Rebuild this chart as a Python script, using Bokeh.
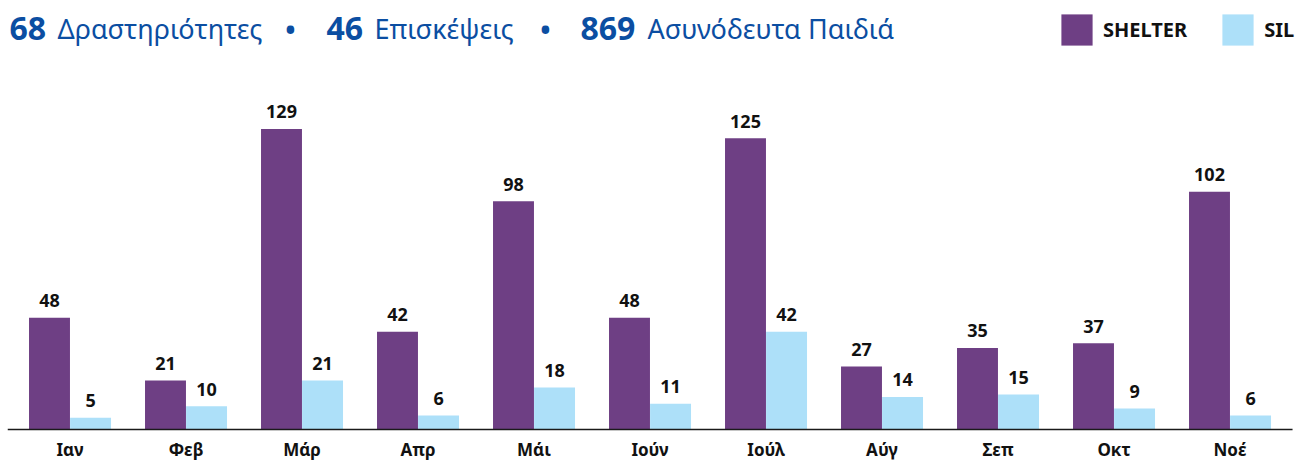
from bokeh.plotting import figure
from bokeh.models import ColumnDataSource, Range1d, Label, Legend, LegendItem
from bokeh.transform import dodge
from bokeh.core.properties import value
from bokeh.embed import file_html
from bokeh.resources import INLINE

# ---- data ----
months = ["Ιαν", "Φεβ", "Μάρ", "Απρ", "Μάι", "Ιούν", "Ιούλ", "Αύγ", "Σεπ", "Οκτ", "Νοέ"]
shelter = [48, 21, 129, 42, 98, 48, 125, 27, 35, 37, 102]
sil = [5, 10, 21, 6, 18, 11, 42, 14, 15, 9, 6]
series_names = ["SHELTER", "SIL"]
stat_values = ["68", "46", "869"]
stat_labels = ["Δραστηριότητες", "Επισκέψεις", "Ασυνόδευτα Παιδιά"]

# ---- style ----
PURPLE = "#6e3f84"
BLUE = "#ade0f9"
NAVY = "#0b4ea2"
INK = "#111111"
FONT = "Noto Sans"
W, H = 1306, 462
BASE = 429          # px from canvas top to the baseline
K = 2.33            # px per unit
STEP = 116          # px per month group
LEFT = 7            # frame left border
PAD = 0.039         # extra padding (in groups) outside the outer groups

n = len(months)
src = ColumnDataSource(dict(
    idx=list(range(n)), month=months, shelter=shelter, sil=sil,
    shelter_txt=[str(v) for v in shelter],
    sil_txt=[str(v) for v in sil],
))

x_start = -0.5 - PAD
x_end = x_start + (W - LEFT) / STEP
p = figure(width=W, height=H,
           x_range=Range1d(x_start, x_end),
           y_range=Range1d(-(H - BASE) / K, BASE / K),
           output_backend="svg", toolbar_location=None,
           min_border_left=LEFT, min_border_right=0, min_border_top=0, min_border_bottom=0,
           x_axis_location=None, y_axis_location=None)

bw, off = 0.353, 0.177
r1 = p.vbar(x=dodge("idx", -off), top="shelter", width=bw, source=src,
            fill_color=PURPLE, line_color=None)
r2 = p.vbar(x=dodge("idx", off), top="sil", width=bw, source=src,
            fill_color=BLUE, line_color=None)

for col, o in (("shelter", -off), ("sil", off)):
    p.text(x=dodge("idx", o), y=col, text=col + "_txt", source=src,
           text_align="center", text_baseline="alphabetic", y_offset=-17,
           text_font=value(FONT), text_font_style="bold", text_font_size="18px",
           text_color=INK)

# month labels under the baseline
p.text(x="idx", y=0, text="month", source=src, text_align="center",
       text_baseline="alphabetic", y_offset=20,
       text_font=value(FONT), text_font_style="bold", text_font_size="17px",
       text_color=INK)

# baseline (category axis line)
p.segment(x0=[x_start], x1=[n - 0.5 + PAD], y0=[0], y1=[0],
          line_color="#1a1a1a", line_width=1.5)

legend = Legend(items=[LegendItem(label=series_names[0], renderers=[r1]),
                       LegendItem(label=series_names[1], renderers=[r2])],
                orientation="horizontal", location=(1050, 413),
                glyph_width=39, glyph_height=39, label_standoff=7, spacing=31,
                padding=0, margin=0, border_line_color=None, background_fill_alpha=0,
                label_text_font=FONT, label_text_font_style="bold",
                label_text_font_size="20px", label_text_color=INK)
p.add_layout(legend)

p.xgrid.visible = False
p.ygrid.visible = False
p.outline_line_color = None

# ---- heading ----
ty = (BASE - 28) / K
num_x = [2, 319, 573]
lab_x = [50, 367, 640]
bul_x = [283, 538]
for t, x in zip(stat_values, num_x):
    p.add_layout(Label(x=x, y=ty, x_units="screen", y_units="data", text=t,
                       text_font=FONT, text_font_style="bold", text_font_size="32px",
                       text_color=NAVY, text_baseline="alphabetic"))
for t, x in zip(stat_labels, lab_x):
    p.add_layout(Label(x=x, y=ty, x_units="screen", y_units="data", text=t,
                       text_font=FONT, text_font_size="27px",
                       text_color=NAVY, text_baseline="alphabetic"))
for x in bul_x:
    p.add_layout(Label(x=x, y=ty, x_units="screen", y_units="data", text="•",
                       text_font=FONT, text_font_size="34px", text_align="center",
                       text_color=NAVY, text_baseline="alphabetic"))

open("out.html", "w").write(file_html(p, INLINE))
